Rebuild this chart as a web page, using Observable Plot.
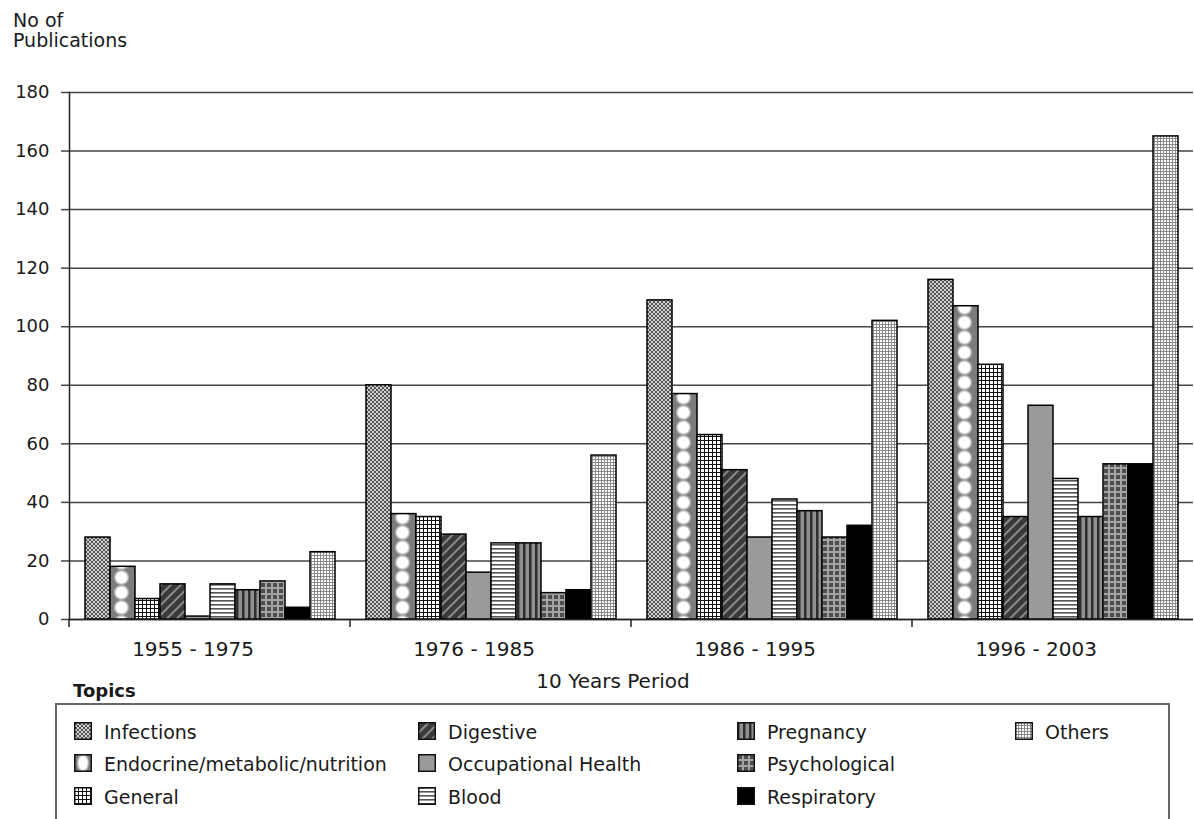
<!DOCTYPE html>
<html>
<head>
<meta charset="utf-8">
<script src="https://cdn.jsdelivr.net/npm/d3@7"></script>
<script src="https://cdn.jsdelivr.net/npm/@observablehq/plot@0.6"></script>
<style>
  html, body { margin: 0; padding: 0; background: #fff; }
  body { font-family: "DejaVu Sans", Verdana, sans-serif; color: #1a1a1a; }
  #wrap { position: relative; width: 1194px; height: 819px; overflow: hidden; }
  #chart { position: absolute; left: 0; top: 0; }
  .ylab { position: absolute; left: 13px; font-size: 19px; line-height: 19px; white-space: nowrap; }
  .xlab { position: absolute; left: 413px; width: 400px; top: 671px; text-align: center; font-size: 20px; line-height: 20px; }
  .topics { position: absolute; left: 73px; top: 682px; font-size: 18px; line-height: 18px; font-weight: bold; }
  .legbox { position: absolute; left: 55px; top: 703px; width: 1115px; height: 140px; border: 2px solid #666; box-sizing: border-box; }
  .item { position: absolute; font-size: 19px; line-height: 19px; white-space: nowrap; }
  .sw { position: absolute; }
  #defsvg { position: absolute; width: 0; height: 0; }
</style>
</head>
<body>
<svg id="defsvg" aria-hidden="true"><defs id="defs"></defs></svg>
<div id="wrap">
  <div id="chart"></div>
  <div class="ylab" style="top:11px">No of</div>
  <div class="ylab" style="top:31px">Publications</div>
  <div class="xlab">10 Years Period</div>
  <div class="topics">Topics</div>
  <div class="legbox"></div>
</div>
<script>
// ---------- data ----------
const periods = ["1955 - 1975", "1976 - 1985", "1986 - 1995", "1996 - 2003"];
const topics = ["Infections", "Endocrine/metabolic/nutrition", "General", "Digestive",
  "Occupational Health", "Blood", "Pregnancy", "Psychological", "Respiratory", "Others"];
const values1955 = [28, 18, 7, 12, 1, 12, 10, 13, 4, 23];
const values1976 = [80, 36, 35, 29, 16, 26, 26, 9, 10, 56];
const values1986 = [109, 77, 63, 51, 28, 41, 37, 28, 32, 102];
const values1996 = [116, 107, 87, 35, 73, 48, 35, 53, 53, 165];
const yTicks = [0, 20, 40, 60, 80, 100, 120, 140, 160, 180];

const series = [values1955, values1976, values1986, values1996];
const rows = periods.flatMap((p, i) => topics.map((t, j) => ({period: p, topic: t, value: series[i][j]})));

// ---------- patterns ----------
const defs = d3.select("#defs");
const grad = defs.append("radialGradient").attr("id", "glow");
grad.append("stop").attr("offset", "0%").attr("stop-color", "#fff");
grad.append("stop").attr("offset", "62%").attr("stop-color", "#fff");
grad.append("stop").attr("offset", "100%").attr("stop-color", "#7c7c7c");

function pattern(id, w, h, draw, attrs = {}) {
  const p = defs.append("pattern").attr("id", id)
    .attr("patternUnits", "userSpaceOnUse").attr("width", w).attr("height", h);
  for (const k in attrs) p.attr(k, attrs[k]);
  draw(p);
  return p;
}
// Infections
pattern("pat0", 4, 4, p => {
  p.append("rect").attr("width", 4).attr("height", 4).attr("fill", "#d0d0d0");
  p.append("path").attr("d", "M0,0L4,4M4,0L0,4").attr("stroke", "#555").attr("stroke-width", 1);
});
// Endocrine (geometry set after render)
const endo = pattern("pat1", 24, 15, p => {
  p.append("rect").attr("class", "bg").attr("width", 24).attr("height", 15).attr("fill", "#7c7c7c");
  p.append("circle").attr("cx", 11).attr("cy", 7.5).attr("r", 8.2).attr("fill", "url(#glow)");
});
pattern("leg1", 18, 18, p => {
  p.append("rect").attr("width", 18).attr("height", 18).attr("fill", "#7c7c7c");
  p.append("ellipse").attr("cx", 9).attr("cy", 9).attr("rx", 6.5).attr("ry", 10).attr("fill", "url(#glow)");
});
// General
pattern("pat2", 4, 4, p => {
  p.append("rect").attr("width", 4).attr("height", 4).attr("fill", "#fff");
  p.append("path").attr("d", "M0,0.5H4M0.5,0V4").attr("stroke", "#111").attr("stroke-width", 1);
});
// Digestive
pattern("pat3", 7, 7, p => {
  p.append("rect").attr("width", 7).attr("height", 7).attr("fill", "#3a3a3a");
  p.append("rect").attr("width", 2).attr("height", 7).attr("fill", "#8a8a8a");
}, {patternTransform: "rotate(45)"});
// Blood
pattern("pat5", 4, 4, p => {
  p.append("rect").attr("width", 4).attr("height", 4).attr("fill", "#fff");
  p.append("rect").attr("width", 4).attr("height", 1.6).attr("fill", "#555");
});
// Pregnancy
pattern("pat6", 6, 6, p => {
  p.append("rect").attr("width", 6).attr("height", 6).attr("fill", "#909090");
  p.append("rect").attr("width", 2.5).attr("height", 6).attr("fill", "#2e2e2e");
});
// Psychological
pattern("pat7", 6, 6, p => {
  p.append("rect").attr("width", 6).attr("height", 6).attr("fill", "#a4a4a4");
  p.append("rect").attr("x", 1).attr("y", 1).attr("width", 4).attr("height", 4).attr("fill", "#4e4e4e");
});
// Others
pattern("pat9", 3, 3, p => {
  p.append("rect").attr("width", 3).attr("height", 3).attr("fill", "#fff");
  p.append("path").attr("d", "M0,0.5H3M0.5,0V3").attr("stroke", "#8a8a8a").attr("stroke-width", 1);
});

const fills = ["url(#pat0)", "url(#pat1)", "url(#pat2)", "url(#pat3)", "#9a9a9a",
  "url(#pat5)", "url(#pat6)", "url(#pat7)", "#000", "url(#pat9)"];

// ---------- chart ----------
function boundaryTicks(index, scales, values, dimensions) {
  const y0 = scales.y(0);
  const x0 = dimensions.marginLeft;
  return d3.create("svg:line")
    .attr("x1", x0).attr("x2", x0).attr("y1", y0).attr("y2", y0 + 8)
    .attr("stroke", "#222").attr("stroke-width", 1.5).node();
}

const chart = Plot.plot({
  width: 1194,
  height: 700,
  marginLeft: 67,
  marginRight: 0,
  marginTop: 92,
  marginBottom: 81,
  style: {fontFamily: "'DejaVu Sans', Verdana, sans-serif", color: "#1a1a1a", background: "transparent", overflow: "visible"},
  fx: {domain: periods, padding: 0, label: null},
  x: {domain: topics, paddingInner: 0, paddingOuter: 0.62, axis: null},
  y: {domain: [0, 180], label: null},
  color: {domain: topics, range: fills},
  marks: [
    Plot.gridY(yTicks, {stroke: "#444", strokeOpacity: 1, strokeWidth: 1.5}),
    Plot.axisY(yTicks, {anchor: "left", tickSize: 8, tickPadding: 12, fontSize: 18, stroke: "#444", strokeWidth: 1.5, label: null}),
    Plot.axisFx({anchor: "bottom", tickSize: 0, tickPadding: 22, fontSize: 20, dx: -17, label: null}),
    Plot.barY(rows, {fx: "period", x: "topic", y: "value", fill: "topic", stroke: "#000", strokeWidth: 1.5}),
    Plot.ruleY([0], {stroke: "#222", strokeWidth: 1.5}),
    Plot.frame({anchor: "left", facetAnchor: "left", stroke: "#222", strokeWidth: 1.5}),
    boundaryTicks
  ]
});
document.getElementById("chart").appendChild(chart);

// align the circle pattern with the endocrine bars using the plot's x scale
const xs = chart.scale("x");
const bx = xs.apply(topics[1]);
const bw = xs.bandwidth;
endo.attr("x", bx).attr("width", bw);
endo.select("rect.bg").attr("width", bw);
endo.select("circle").attr("cx", bw / 2 - 1);

// ---------- legend ----------
const legendColumns = [[0, 1, 2], [3, 4, 5], [6, 7, 8], [9]];
const colSwatchX = [74, 418, 737, 1015];
const textGap = 30;
const rowBaseline = [739, 771, 804];
const wrap = document.getElementById("wrap");
legendColumns.forEach((col, ci) => {
  col.forEach((ti, ri) => {
    const base = rowBaseline[ri];
    const sw = d3.select(wrap).append("svg").attr("class", "sw")
      .attr("width", 18).attr("height", 18)
      .style("left", colSwatchX[ci] + "px").style("top", (base - 17) + "px");
    sw.append("rect").attr("x", 0.75).attr("y", 0.75).attr("width", 16.5).attr("height", 16.5)
      .attr("fill", ti === 1 ? "url(#leg1)" : fills[ti]).attr("stroke", "#111").attr("stroke-width", 1.5);
    d3.select(wrap).append("div").attr("class", "item")
      .style("left", (colSwatchX[ci] + textGap) + "px").style("top", (base - 16) + "px")
      .text(topics[ti]);
  });
});
</script>
</body>
</html>
